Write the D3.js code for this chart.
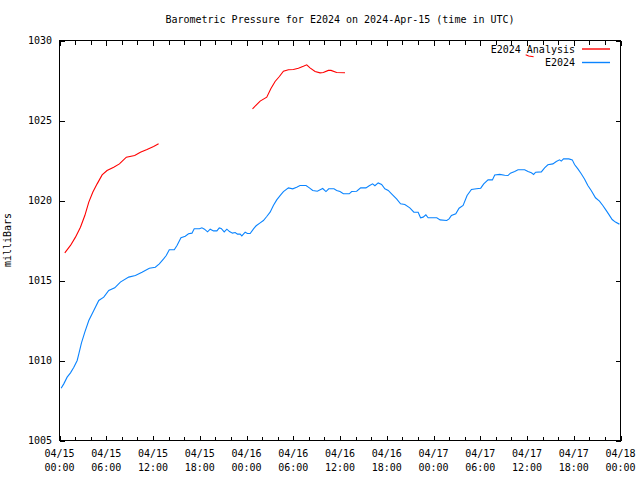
<!DOCTYPE html>
<html><head><meta charset="utf-8">
<script src="https://cdn.jsdelivr.net/npm/d3@7"></script>
<style>
html,body{margin:0;padding:0;background:#fff;}
svg{display:block;}
text{font-family:"DejaVu Sans Mono","Liberation Mono",monospace;font-size:10px;fill:#000;}
</style></head>
<body>
<svg id="chart" width="640" height="480"></svg>
<script>
const titleText = "Barometric Pressure for E2024 on 2024-Apr-15 (time in UTC)";
const yLabel = "milliBars";
const seriesNames = ["E2024 Analysis", "E2024"];
const seriesColors = ["#ff0000", "#0a84ff"];
const yTicks = [1005, 1010, 1015, 1020, 1025, 1030];
// hours after 2024-04-15 00:00 UTC
const analysisHours = [0.68,1.41,2.05,2.69,3.25,3.76,4.27,4.83,5.47,6.1,6.96,7.69,8.58,9.65,10.38,11.23,12.08,12.72,
  18,
  24.77,25.75,26.6,27.12,27.67,28.22,28.74,29.38,30.02,30.66,31.3,31.73,32.15,32.8,33.44,33.86,34.5,34.85,35.57,36.64,
  48,
  59.83,60.21,60.85];
const analysisValues = [1016.73,1017.19,1017.71,1018.33,1019.06,1019.9,1020.52,1021.04,1021.6,1021.87,1022.08,1022.29,1022.71,1022.81,1023.02,1023.19,1023.38,1023.54,
  null,
  1025.73,1026.21,1026.46,1026.98,1027.44,1027.75,1028.08,1028.17,1028.19,1028.27,1028.39,1028.48,1028.29,1028.06,1027.98,1028.0,1028.13,1028.13,1028.0,1027.98,
  null,
  1029.11,1029.03,1028.98];
const obsHours = [0.21,0.55,0.98,1.41,1.84,2.27,2.48,2.82,3.25,3.76,4.4,5.04,5.68,6.32,7.09,7.81,8.88,9.74,10.59,11.53,12.3,12.81,13.36,13.7,
  14.09,14.73,15.08,15.59,16.14,16.56,17.0,17.29,17.97,18.28,18.61,19.0,19.34,19.77,20.2,20.5,20.75,21.14,21.48,21.82,22.2,22.55,22.84,23.19,23.4,23.83,24.12,24.47,
  24.9,25.24,25.75,26.17,26.6,27.03,27.45,27.88,28.31,28.74,29.38,29.93,30.44,30.87,31.64,32.07,32.5,33.09,33.78,34.2,34.55,35.23,35.57,36.0,36.43,37.19,37.5,
  38.14,38.65,39.33,39.75,40.18,40.48,40.9,41.34,41.76,42.19,42.62,43.26,43.77,44.32,44.96,45.48,46.03,46.34,46.67,47.02,47.31,48.42,48.85,49.7,50.0,
  50.3,50.86,51.28,51.8,52.31,52.87,53.51,54.06,54.45,55.0,55.56,55.86,56.5,57.14,57.56,57.87,58.42,58.85,59.7,60.13,60.56,60.85,61.11,61.84,62.26,62.68,
  63.32,63.76,64.18,64.4,64.69,65.37,65.81,66.1,66.53,66.96,67.38,67.81,68.24,68.79,69.3,69.73,70.16,70.5,70.93,71.35,71.78,71.87];
const obsValues = [1008.27,1008.54,1008.96,1009.23,1009.58,1010.0,1010.42,1011.1,1011.77,1012.5,1013.13,1013.75,1013.96,1014.38,1014.54,1014.9,1015.21,1015.31,1015.52,1015.77,1015.83,1016.04,1016.35,1016.56,
  1016.92,1016.92,1017.19,1017.67,1017.77,1017.92,1017.96,1018.23,1018.23,1018.29,1018.21,1018.04,1018.21,1018.1,1018.1,1018.29,1018.25,1018.04,1018.21,1018.06,1017.96,1018.0,1017.9,1017.9,1017.79,1018.02,1017.94,1017.94,
  1018.23,1018.42,1018.6,1018.75,1019.0,1019.27,1019.69,1020.04,1020.31,1020.56,1020.79,1020.73,1020.83,1020.94,1020.94,1020.79,1020.63,1020.58,1020.75,1020.56,1020.73,1020.73,1020.63,1020.56,1020.42,1020.42,1020.56,
  1020.58,1020.79,1020.79,1020.92,1021.04,1020.92,1021.1,1021.0,1020.73,1020.63,1020.42,1020.1,1019.79,1019.75,1019.54,1019.27,1019.27,1018.92,1018.96,1019.1,1018.92,1018.92,1018.79,1018.75,1018.85,
  1019.06,1019.17,1019.52,1019.69,1020.31,1020.69,1020.73,1020.77,1021.04,1021.29,1021.29,1021.6,1021.63,1021.58,1021.56,1021.71,1021.81,1021.92,1021.92,1021.81,1021.73,1021.63,1021.77,1021.79,1022.04,1022.23,
  1022.29,1022.44,1022.54,1022.46,1022.6,1022.6,1022.54,1022.25,1021.98,1021.67,1021.35,1020.94,1020.63,1020.17,1019.96,1019.69,1019.38,1019.13,1018.81,1018.65,1018.54,1018.54];

const base = Date.UTC(2024, 3, 15);
const toDate = h => new Date(base + h * 3600e3);
const majorTicks = d3.range(0, 73, 6).map(toDate);
const minorTicks = d3.range(0, 73, 2).filter(h => h % 6 !== 0).map(toDate);

const L = 59.5, R = 620.5, T = 40.5, B = 440.5;
const svg = d3.select("#chart");
const x = d3.scaleUtc().domain([toDate(0), toDate(72)]).range([L, R]);
const y = d3.scaleLinear().domain([1005, 1030]).range([B, T]);

// title
svg.append("text").attr("x", 340).attr("y", 23).attr("text-anchor", "middle").text(titleText);
// y label
svg.append("text").attr("transform", "translate(11,240) rotate(-90)").attr("text-anchor", "middle").text(yLabel);

const g = svg.append("g").attr("shape-rendering", "crispEdges");
// axes with inward ticks
g.append("g").attr("transform", `translate(0,${B})`)
  .call(d3.axisBottom(x).tickValues(majorTicks).tickSize(-5).tickFormat(""))
  .call(a => a.select(".domain").remove());
g.append("g").attr("transform", `translate(0,${B})`)
  .call(d3.axisBottom(x).tickValues(minorTicks).tickSize(-4).tickFormat(""))
  .call(a => a.select(".domain").remove());
g.append("g").attr("transform", `translate(0,${T})`)
  .call(d3.axisTop(x).tickValues(majorTicks).tickSize(-5).tickFormat(""))
  .call(a => a.select(".domain").remove());
g.append("g").attr("transform", `translate(0,${T})`)
  .call(d3.axisTop(x).tickValues(minorTicks).tickSize(-4).tickFormat(""))
  .call(a => a.select(".domain").remove());
g.append("g").attr("transform", `translate(${L},0)`)
  .call(d3.axisLeft(y).tickValues(yTicks).tickSize(-5).tickFormat(""))
  .call(a => a.select(".domain").remove());
g.append("g").attr("transform", `translate(${R},0)`)
  .call(d3.axisRight(y).tickValues(yTicks).tickSize(-5).tickFormat(""))
  .call(a => a.select(".domain").remove());
g.selectAll(".tick line").attr("stroke", "#000");

// frame
g.append("rect").attr("x", L).attr("y", T).attr("width", R - L).attr("height", B - T)
  .attr("fill", "none").attr("stroke", "#000");

// y tick labels
svg.append("g").selectAll("text").data(yTicks).join("text")
  .attr("x", 52).attr("y", d => y(d)).attr("dy", "0.35em").attr("text-anchor", "end")
  .text(d => d);

// x tick labels (two lines)
const fmtD = d3.utcFormat("%m/%d"), fmtT = d3.utcFormat("%H:%M");
const xl = svg.append("g").selectAll("text").data(majorTicks).join("text")
  .attr("text-anchor", "middle");
xl.append("tspan").attr("x", d => x(d)).attr("y", 457).text(d => fmtD(d));
xl.append("tspan").attr("x", d => x(d)).attr("y", 471).text(d => fmtT(d));

// lines
const line = d3.line()
  .defined(d => d[1] != null)
  .x(d => x(toDate(d[0])))
  .y(d => y(d[1]));
const analysis = analysisHours.map((h, i) => [h, analysisValues[i]]);
const obs = obsHours.map((h, i) => [h, obsValues[i]]);
svg.append("path").datum(analysis).attr("d", line)
  .attr("fill", "none").style("stroke", seriesColors[0]).attr("stroke-width", 1.1);
svg.append("path").datum(obs).attr("d", line)
  .attr("fill", "none").style("stroke", seriesColors[1]).attr("stroke-width", 1.1);

// legend
const leg = svg.append("g");
seriesNames.forEach((n, i) => {
  const yy = 49 + i * 13.5;
  leg.append("text").attr("x", 575).attr("y", yy).attr("dy", "0.35em").attr("text-anchor", "end").text(n);
  leg.append("line").attr("x1", 582).attr("x2", 610).attr("y1", yy).attr("y2", yy)
    .style("stroke", seriesColors[i]).style("stroke-width", 1.4);
});
</script>
</body></html>
